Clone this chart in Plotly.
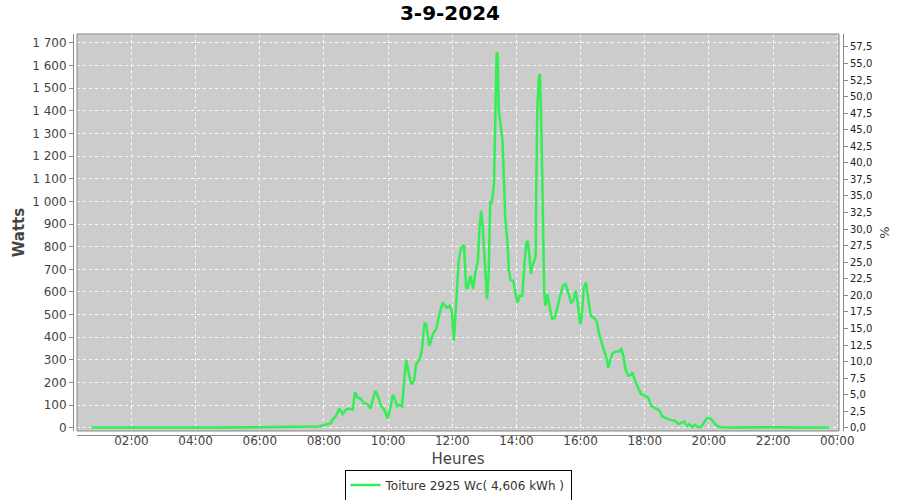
import plotly.graph_objects as go

DAY = "2024-09-03"
TITLE = "3-9-2024"
SERIES_NAME = "Toiture 2925 Wc( 4,606 kWh )"
PEAK_WC = 2925  # right axis: % of installed peak power

times = [
    "00:45", "01:15", "01:45", "02:15", "02:45", "03:15", "03:45", "04:15", "04:45", "05:15",
    "05:45", "06:15", "06:45", "07:05", "07:17", "07:25", "07:40", "07:50", "07:57", "08:07",
    "08:13", "08:16", "08:22", "08:29", "08:35", "08:41", "08:47", "08:54", "08:58", "09:03",
    "09:09", "09:14", "09:21", "09:27", "09:31", "09:36", "09:41", "09:47", "09:53", "09:59",
    "10:04", "10:09", "10:13", "10:17", "10:21", "10:26", "10:31", "10:34", "10:38", "10:43",
    "10:48", "10:53", "10:59", "11:03", "11:08", "11:11", "11:17", "11:24", "11:30", "11:36",
    "11:42", "11:49", "11:55", "11:59", "12:03", "12:07", "12:12", "12:16", "12:22", "12:26",
    "12:29", "12:34", "12:39", "12:43", "12:48", "12:51", "12:54", "12:57", "13:01", "13:05",
    "13:08", "13:11", "13:14", "13:18", "13:21", "13:23", "13:25", "13:27", "13:31", "13:34",
    "13:37", "13:39", "13:43", "13:46", "13:49", "13:54", "13:58", "14:02", "14:06", "14:11",
    "14:14", "14:18", "14:21", "14:24", "14:27", "14:29", "14:33", "14:36", "14:37", "14:39",
    "14:42", "14:44", "14:47", "14:50", "14:52", "14:54", "14:58", "15:03", "15:07", "15:12",
    "15:17", "15:21", "15:27", "15:32", "15:37", "15:42", "15:46", "15:51", "15:54", "15:59",
    "16:02", "16:06", "16:10", "16:14", "16:19", "16:24", "16:30", "16:34", "16:38", "16:42",
    "16:49", "16:52", "16:55", "17:00", "17:06", "17:12", "17:16", "17:20", "17:24", "17:29",
    "17:34", "17:37", "17:42", "17:47", "17:53", "18:01", "18:07", "18:12", "18:19", "18:27",
    "18:32", "18:39", "18:48", "18:57", "19:03", "19:09", "19:14", "19:19", "19:23", "19:28",
    "19:34", "19:39", "19:46", "19:52", "19:56", "20:03", "20:07", "20:12", "20:18", "20:24",
    "20:45", "21:15", "21:45", "22:15", "22:45", "23:15", "23:45",
]

watts = [
    1, 2, 1, 2, 1, 2, 1, 2, 1, 2,
    1, 2, 2, 3, 3, 5, 4, 6, 10, 15,
    20, 36, 51, 85, 61, 80, 85, 80, 158, 134,
    128, 110, 105, 85, 124, 164, 139, 95, 80, 41,
    88, 146, 124, 95, 102, 95, 234, 300, 248, 193,
    204, 285, 300, 340, 462, 459, 362, 415, 437, 503,
    553, 531, 539, 516, 384, 531, 737, 790, 808, 614,
    619, 671, 614, 686, 737, 884, 958, 884, 708, 568,
    678, 995, 995, 1076, 1414, 1657, 1651, 1400, 1326, 1267,
    1077, 928, 826, 693, 652, 649, 597, 553, 583, 583,
    693, 811, 826, 768, 680, 708, 737, 759, 1032, 1400,
    1547, 1562, 1282, 855, 605, 539, 590, 524, 480, 487,
    539, 575, 627, 634, 597, 553, 561, 605, 561, 458,
    487, 619, 642, 568, 494, 487, 472, 421, 384, 355,
    303, 265, 295, 330, 337, 337, 347, 318, 259, 230,
    234, 244, 207, 178, 149, 141, 131, 97, 87, 78,
    53, 43, 35, 31, 16, 23, 28, 9, 16, 4,
    13, 4, 4, 28, 41, 41, 31, 16, 6, 3,
    2, 3, 2, 3, 2, 3, 2,
]

x_vals = [f"{DAY} {t}" for t in times]

W, H = 900, 500
ml, mr, mt, mb = 73, 57, 34, 65
pw = W - ml - mr
ph = H - mt - mb
off = 4

y_min, y_max = -14, 1739

fig = go.Figure()
fig.add_trace(go.Scatter(
    x=x_vals, y=watts, mode="lines", name=SERIES_NAME,
    line=dict(color="#33EE55", width=2.5),
    yaxis="y",
))
# invisible trace so the right (%) axis is shown
fig.add_trace(go.Scatter(
    x=[x_vals[0]], y=[0], yaxis="y2", mode="lines",
    showlegend=False, hoverinfo="skip", line=dict(color="rgba(0,0,0,0)"),
))

tick_font = dict(family="DejaVu Sans", size=12, color="#444444")

fig.update_layout(
    width=W, height=H,
    margin=dict(l=ml, r=mr, t=mt, b=mb),
    paper_bgcolor="white",
    plot_bgcolor="#CCCCCC",
    separators=", ",
    title=dict(text=f"<b>{TITLE}</b>", x=0.5, xanchor="center", y=1 - 13 / H, yanchor="middle",
               font=dict(family="DejaVu Sans", size=20, color="#000000")),
    xaxis=dict(
        domain=[off / pw, 1 - off / pw],
        anchor="free", position=0, automargin=False,
        type="date",
        range=[f"{DAY} 00:18:08", "2024-09-04 00:03:18"],
        tick0=f"{DAY} 00:00", dtick=2 * 3600 * 1000,
        tickformat="%H:%M",
        showgrid=True, gridcolor="rgba(255,255,255,0.85)", griddash="3px,3px", gridwidth=1,
        showline=True, linecolor="#888888", linewidth=1,
        ticks="outside", ticklen=4, tickcolor="#888888",
        ticklabelstandoff=-9,
        tickfont=tick_font,
        title=dict(text="Heures", font=dict(family="DejaVu Sans", size=15, color="#444444"), standoff=6),
        zeroline=False,
    ),
    yaxis=dict(
        domain=[off / ph, 1],
        anchor="free", position=0, automargin=False,
        range=[y_min, y_max],
        tick0=0, dtick=100, tickformat=",d",
        showgrid=True, gridcolor="rgba(255,255,255,0.85)", griddash="3px,3px", gridwidth=1,
        showline=True, linecolor="#888888", linewidth=1,
        ticks="outside", ticklen=4, tickcolor="#888888",
        tickfont=tick_font,
        title=dict(text="<b>Watts</b>", font=dict(family="DejaVu Sans", size=15, color="#444444"), standoff=2),
        zeroline=False,
    ),
    yaxis2=dict(
        overlaying="y", side="right",
        anchor="free", position=1, automargin=False,
        range=[y_min / PEAK_WC * 100, y_max / PEAK_WC * 100],
        tick0=0, dtick=2.5, tickformat=".1f",
        showgrid=False, zeroline=False,
        showline=True, linecolor="#888888", linewidth=1,
        ticks="outside", ticklen=4, tickcolor="#888888",
        tickfont=dict(family="DejaVu Sans", size=10, color="#222222"),
        title=dict(text="%", font=dict(family="DejaVu Sans", size=13, color="#444444"), standoff=8),
    ),
    showlegend=True,
    legend=dict(
        orientation="h", x=0.5, xanchor="center",
        yref="container", y=1 - 485 / H, yanchor="middle",
        bgcolor="white", bordercolor="#000000", borderwidth=1,
        font=dict(family="DejaVu Sans", size=12, color="#333333"),
        itemwidth=30,
    ),
)

# plot outline (inside the offset axes)
fig.add_shape(type="rect", xref="x domain", yref="y domain", x0=0, x1=1, y0=0, y1=1,
              line=dict(color="#888888", width=1), fillcolor="rgba(0,0,0,0)", layer="above")

fig.write_html("out.html", config={"displayModeBar": False},
               post_script="document.body.style.margin='0';")
